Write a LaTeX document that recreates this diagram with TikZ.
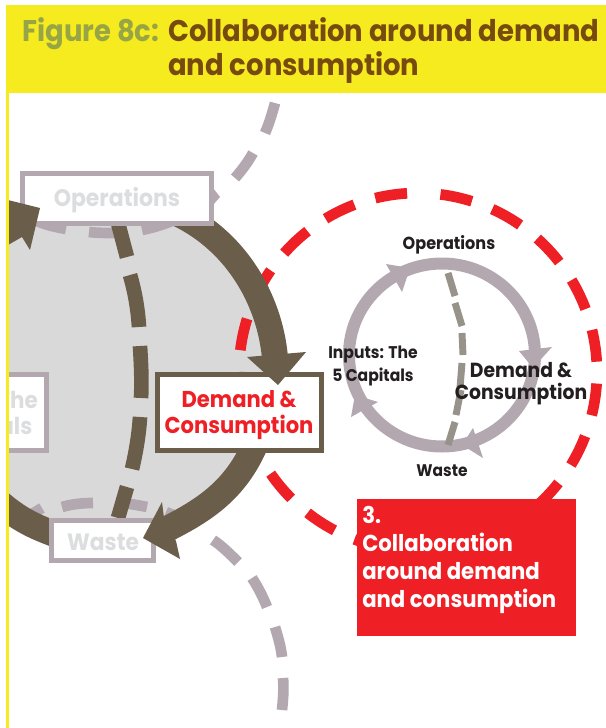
\documentclass[tikz,border=0pt]{standalone}
\usepackage{fontspec}
\setmainfont{Poppins}[FakeStretch=0.92]
\definecolor{hdr}{HTML}{F6EB1F}
\definecolor{olive}{HTML}{97A545}
\definecolor{titlebr}{HTML}{774B0F}
\definecolor{brownring}{HTML}{6A5E4A}
\definecolor{mauve}{HTML}{B4A8B0}
\definecolor{lgray}{HTML}{D9D9DA}
\definecolor{txtgray}{HTML}{DCDDDE}
\definecolor{redc}{HTML}{EF1F26}
\definecolor{midgray}{HTML}{98938A}
\definecolor{dark}{HTML}{231F20}
\tikzset{
 lab/.style={font=\bfseries\fontsize{#1}{#1}\selectfont,align=center,inner sep=0pt},
 ttl/.style={font=\bfseries\fontsize{22.4}{26}\selectfont,inner sep=0pt,anchor=base west},
 mauveline/.style={draw=mauve,line width=3.75pt},
 bigdash/.style={mauve,line width=8pt},
 browndash/.style={brownring,line width=11pt},
 ringline/.style={brownring,line width=19.5pt},
 reddash/.style={redc,line width=8pt},
 smalldash/.style={midgray,line width=5.2pt},
}
\begin{document}
\begin{tikzpicture}[x=0.75pt,y=-0.75pt]
\useasboundingbox (0,0) rectangle (606,728);
\fill[white] (0,0) rectangle (606,728);
\begin{scope}
\clip (8.5,93) rectangle (606,728);
% grey disc
\fill[lgray] (8,225) -- (190,222) .. controls (240,245) and (270,300) .. (275,358) -- (255,450) .. controls (235,490) and (205,510) .. (165,530) -- (50,533) .. controls (35,527) and (20,520) .. (0,505) -- cycle;
% big dashed mauve, upper
\draw[bigdash] (275,103) .. controls (272,114) and (269,124) .. (265,133);
\draw[bigdash] (253,153) .. controls (248,162) and (242,170) .. (235,178);
\fill[mauve] (213,188) -- (220,197) -- (213,205) -- cycle;
\draw[bigdash] (35,220) .. controls (45,225) and (55,227) .. (66,229);
\draw[bigdash] (89,232) .. controls (97,233) and (107,233) .. (115,233);
\draw[bigdash] (142,230) .. controls (152,228) and (162,225) .. (172,221);
% big dashed mauve, lower
\draw[bigdash] (32,514) -- (42,508);
\draw[bigdash] (62,507) .. controls (72,504) and (83,503) .. (93,503);
\draw[bigdash] (116,503) .. controls (127,503) and (137,505) .. (147,507);
\draw[bigdash] (166,512) -- (178,517);
\draw[bigdash] (213,540) .. controls (222,546) and (230,554) .. (238,562);
\draw[bigdash] (252,578) .. controls (258,587) and (263,597) .. (267,607);
\draw[bigdash] (275,627) .. controls (278,637) and (281,647) .. (282,657);
\draw[bigdash] (283,678) .. controls (284,689) and (283,700) .. (282,710);
% red dashed circle
\foreach \k in {-8,...,9}{
  \pgfmathsetmacro{\aa}{(\k<0) ? 93.5+17.3*\k-3.7 : 93.5+17.3*\k}
  \pgfmathsetmacro{\bb}{\aa+10.3}
  \draw[reddash] plot[domain=\aa:\bb,samples=8,smooth] ({418+179*cos(\x)},{372-179*sin(\x)});
}
% brown ring
\draw[ringline] (165,208) .. controls (235,235) and (270,300) .. (275,358);
\draw[ringline] (255,445) .. controls (235,490) and (205,510) .. (165,530);
\draw[ringline] (60,536) .. controls (35,527) and (20,520) .. (0,503);
% brown centre dashes
\draw[browndash] (118,223) -- (127,257);
\draw[browndash] (130,275) .. controls (135,292) and (138,310) .. (139,327);
\draw[browndash] (140,346) .. controls (141,363) and (142,381) .. (141,398);
\draw[browndash] (140,417) .. controls (139,434) and (136,452) .. (132,469);
\draw[browndash] (127,487) -- (118,518);
% left boxes
\draw[mauveline,fill=white] (22.5,173.5) rectangle (211.5,223.5);
\node[lab=17.9,text=txtgray] (ops) at (117,200) {Operations};
\fill[brownring] (8,200) -- (40,208) -- (30,250) -- (22,237) -- (8,245) -- cycle;
\draw[mauveline,fill=white] (0,374.5) rectangle (46.5,450.5);
\node[lab=17.5,text=txtgray,anchor=east] (inpa) at (38,400) {The};
\node[lab=17.5,text=txtgray,anchor=east] (inpb) at (32.5,426) {als};
\draw[mauveline,fill=white] (51.5,520.5) rectangle (153.5,560.5);
\node[lab=17.7,text=txtgray] (waste) at (103,542) {Waste};
\end{scope}
% header and bar
\fill[hdr] (6,93) rectangle (8.5,728);
\fill[hdr] (6,5) rectangle (606,93);
% demand box
\draw[brownring,line width=3.75pt,fill=white] (157.5,374.5) rectangle (321.5,450.5);
\fill[brownring] (247,357) -- (306,352) -- (278,385) -- cycle;
\fill[brownring] (143,538) -- (162,502) -- (164,518) -- (176,541) -- (180,559) -- cycle;
\node[lab=17.2,text=redc] (dc) at (239,415) {Demand \&\\[2pt]Consumption};
% small ring
\draw[mauve,line width=9pt] (442,355) circle [x radius=93,y radius=-91.5];
\fill[mauve] (386,264) -- (410,268) -- (402,292) -- cycle;
\fill[mauve] (519,351) -- (552,347) -- (533,368) -- cycle;
\fill[mauve] (473,428) -- (483,458) -- (462,445) -- cycle;
\fill[mauve] (378,402) -- (351,417) -- (355,395) -- cycle;
\draw[smalldash] (448,273) -- (455,296);
\draw[smalldash] (455,303) -- (462,326);
\draw[smalldash] (462,333) -- (463,355);
\draw[smalldash] (462,363) -- (460,388);
\draw[smalldash] (461,390) -- (456,415);
\draw[smalldash] (455,422) -- (448,445);
\node[lab=13.1,text=dark] (n1) at (449,245) {Operations};
\node[lab=12.7,text=dark] (n2) at (373,366) {Inputs: The\\[2pt]5 Capitals};
\node[lab=15.3,text=dark] (n3) at (521,384) {Demand \&\\[1pt]Consumption};
\node[lab=12.6,text=dark] (n4) at (442,471) {Waste};
% red box
\fill[redc] (357,499) rectangle (576,636);
\node[lab=17.3,text=white,align=left,anchor=north west] (c) at (362,506) {3.\\[3.7pt]Collaboration\\[3.7pt]around demand\\[3.7pt]and consumption};
% title
\node[ttl,text=olive] (t1) at (22,41) {Figure 8c:};
\node[ttl,text=titlebr] (t2) at (168,41) {Collaboration around demand};
\node[ttl,text=titlebr] (t3) at (168,75) {and consumption};
\end{tikzpicture}
\end{document}
